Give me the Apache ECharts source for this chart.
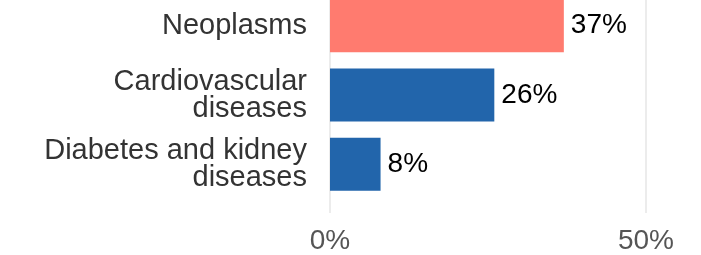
<!DOCTYPE html>
<html>
<head>
<meta charset="utf-8">
<script src="https://cdn.jsdelivr.net/npm/echarts@6/dist/echarts.min.js"></script>
<style>
 html, body { margin: 0; padding: 0; background: #fff; overflow: hidden; width: 701px; height: 255px; }
 /* the reference crops the top of the first bar, so shift the chart up a little */
 #chart { position: relative; top: -9px; width: 701px; height: 264px; }
</style>
</head>
<body>
<div id="chart"></div>
<script>
// data
var categories = ['Neoplasms', 'Cardiovascular\ndiseases', 'Diabetes and kidney\ndiseases'];
var shares = [37, 26, 8];
var barColors = ['#ff7b6f', '#2265ab', '#2265ab'];
var tickLabels = ['0%', '50%'];

var font = '"Liberation Sans", Arial, sans-serif';

var chart = echarts.init(document.getElementById('chart'));

var cfg = {
 animation: false,
 grid: [
  // taller grid only for the vertical gridlines and bottom labels
  { left: 330, right: 55, top: 0, height: 222 },
  // bars
  { left: 330, right: 55, top: 0, height: 208 }
 ],
 xAxis: [
  {
   gridIndex: 0,
   type: 'value',
   min: 0,
   max: 50,
   interval: 50,
   axisLine: { show: false },
   axisTick: { show: false },
   splitLine: { show: true, lineStyle: { color: '#e6e6e6', width: 1.5 } },
   axisLabel: {
    margin: 14,
    fontFamily: font,
    fontSize: 28,
    color: '#555',
    formatter: function (v) { return v === 0 ? tickLabels[0] : tickLabels[1]; }
   }
  },
  {
   gridIndex: 1,
   type: 'value',
   min: 0,
   max: 50,
   show: false
  }
 ],
 yAxis: [
  { gridIndex: 0, type: 'value', show: false },
  {
   gridIndex: 1,
   type: 'category',
   inverse: true,
   data: categories,
   axisLine: { show: false },
   axisTick: { show: false },
   axisLabel: {
    margin: 23,
    fontFamily: font,
    fontSize: 29,
    lineHeight: 27,
    color: '#333',
    align: 'right'
   }
  }
 ],
 series: [{
  type: 'bar',
  xAxisIndex: 1,
  yAxisIndex: 1,
  barWidth: 53,
  data: shares.map(function (v, i) {
   return { value: v, itemStyle: { color: barColors[i] } };
  }),
  label: {
   show: true,
   position: 'right',
   distance: 7,
   fontFamily: font,
   fontSize: 28,
   color: '#000',
   formatter: '{c}%'
  }
 }]
};

chart.setOption(cfg);
</script>
</body>
</html>
